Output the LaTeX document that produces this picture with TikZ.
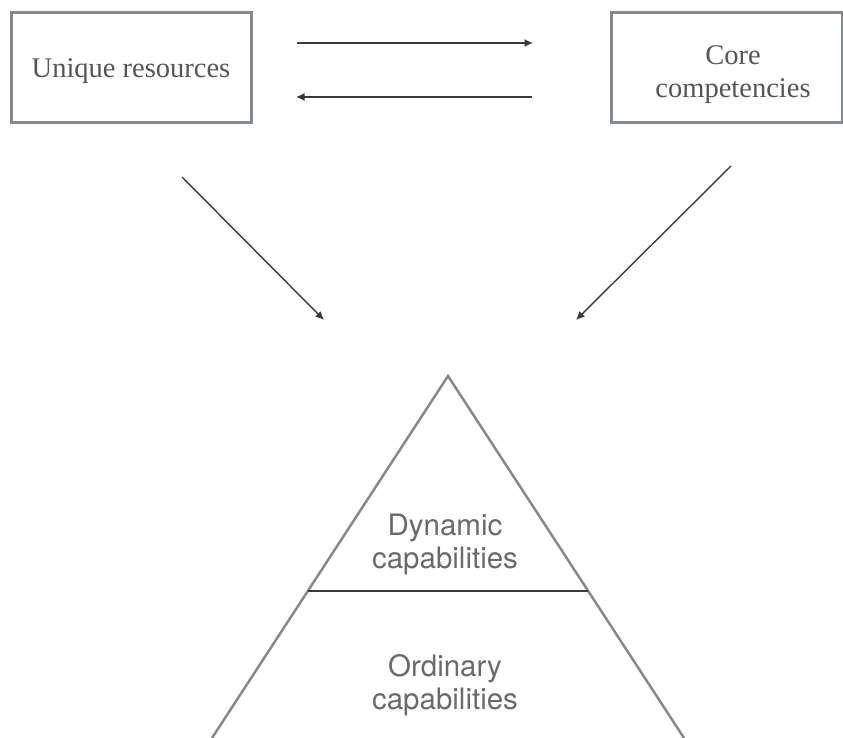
\documentclass[tikz,border=0pt]{standalone}
\usepackage{fontspec}
\setmainfont{Liberation Serif}
\newfontfamily\capfont{TeX Gyre Heros}
\usetikzlibrary{arrows.meta}
\definecolor{boxgray}{HTML}{858A90}
\definecolor{txtgray}{HTML}{555555}
\definecolor{capgray}{HTML}{6A6A6A}
\definecolor{arrgray}{HTML}{3A3A3A}
\tikzset{
  resbox/.style={draw=boxgray, line width=3pt, minimum height=110pt, inner sep=0pt},
  boxtext/.style={text=txtgray, align=center, inner sep=0pt,
    font=\fontsize{28.5}{33}\selectfont},
  conn/.style={draw=arrgray, line width=1.4pt, -{Latex[length=8.5pt,width=8pt]}},
  pyr/.style={draw=boxgray, line width=2.5pt},
  divline/.style={draw=arrgray, line width=1.5pt},
  captext/.style={text=capgray, align=center, inner sep=0pt,
    font=\capfont\fontsize{29.5}{33}\selectfont}
}
\begin{document}
\begin{tikzpicture}[x=1pt,y=-1pt]
\useasboundingbox (0,0) rectangle (843,738);
\clip (0,0) rectangle (843,738);
\node[resbox, minimum width=240pt] (ur) at (131,68) {};
\node[resbox, minimum width=231pt] (cc) at (726.5,68) {};
\node[boxtext] (urt) at (131,71) {Unique resources};
\node[boxtext] (cct) at (733,75) {Core\\competencies};
% horizontal arrows
\coordinate (a1s) at (297,43);
\coordinate (a1e) at (533,43);
\coordinate (a2s) at (532,97);
\coordinate (a2e) at (296,97);
\draw[conn] (a1s) -- (a1e);
\draw[conn] (a2s) -- (a2e);
% diagonal arrows
\coordinate (d1s) at (182,177);
\coordinate (d1e) at (324,320);
\coordinate (d2s) at (731,166);
\coordinate (d2e) at (576,320);
\draw[conn] (d1s) -- (d1e);
\draw[conn] (d2s) -- (d2e);
% pyramid
\coordinate (apex) at (448,376);
\coordinate (bl) at (212,738);
\coordinate (br) at (684,738);
\coordinate (ml) at (308,591);
\coordinate (mr) at (588,591);
\draw[pyr, line join=miter] (bl) -- (apex) -- (br);
\draw[divline] (ml) -- (mr);
\node[captext] (dyn) at (445,544) {Dynamic\\capabilities};
\node[captext] (ord) at (445,685) {Ordinary\\capabilities};
\end{tikzpicture}
\end{document}
